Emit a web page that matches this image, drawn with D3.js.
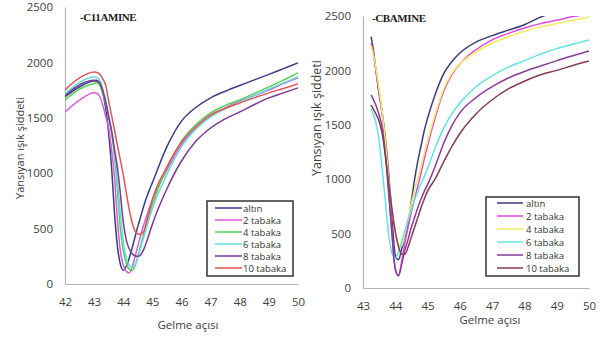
<!DOCTYPE html>
<html>
<head>
<meta charset="utf-8">
<script src="https://cdn.jsdelivr.net/npm/d3@7"></script>
<style>
  body { margin: 0; background: #fff; }
  svg { display: block; }
  .tick text { font-family: "Open Sans", sans-serif; fill: #404040; }
</style>
</head>
<body>
<svg id="chart" width="607" height="340"></svg>
<script>
// ---- Panel 1: -C11AMINE ----
const c11Angles = [42, 42.5, 43, 43.1, 43.2, 43.3, 43.4, 43.5, 43.6, 43.7, 43.8, 43.9, 44.0, 44.1, 44.2, 44.3, 44.4, 44.5, 44.6, 44.7, 44.8, 44.9, 45.0, 45.5, 46, 46.5, 47, 47.5, 48, 48.5, 49, 49.5, 50];
const c11Altin   = [1690, 1780, 1833, 1830, 1800, 1720, 1580, 1360, 1050, 640, 340, 180, 125, 160, 230, 320, 420, 520, 610, 700, 780, 850, 915, 1240, 1470, 1595, 1680, 1740, 1792, 1842, 1892, 1944, 1996];
const c11Tabaka2 = [1553, 1660, 1725, 1722, 1690, 1610, 1510, 1410, 1210, 960, 580, 300, 170, 115, 100, 150, 240, 340, 440, 530, 610, 690, 760, 1030, 1260, 1410, 1520, 1590, 1650, 1700, 1750, 1810, 1860];
const c11Tabaka4 = [1662, 1760, 1810, 1815, 1790, 1720, 1620, 1500, 1363, 1150, 850, 500, 300, 190, 135, 120, 160, 250, 350, 450, 550, 640, 720, 1050, 1290, 1440, 1544, 1610, 1662, 1720, 1779, 1840, 1905];
const c11Tabaka6 = [1716, 1820, 1868, 1865, 1840, 1760, 1650, 1520, 1390, 1200, 930, 640, 380, 240, 170, 150, 170, 240, 330, 420, 510, 600, 680, 990, 1240, 1400, 1508, 1580, 1644, 1700, 1760, 1815, 1869];
const c11Tabaka8 = [1700, 1800, 1840, 1838, 1810, 1740, 1640, 1510, 1380, 1210, 1050, 820, 560, 400, 320, 275, 255, 250, 265, 310, 380, 460, 540, 860, 1110, 1290, 1408, 1490, 1553, 1620, 1680, 1725, 1770];
const c11Tabaka10 = [1752, 1860, 1914, 1910, 1890, 1850, 1790, 1650, 1520, 1390, 1250, 1120, 990, 830, 680, 560, 480, 452, 450, 470, 560, 660, 760, 1057, 1280, 1420, 1526, 1585, 1634, 1680, 1725, 1765, 1806];
const c11XTicks = [42, 43, 44, 45, 46, 47, 48, 49, 50];

// ---- Panel 2: -CBAMINE ----
const cbAngles = [43.25, 43.3, 43.4, 43.5, 43.6, 43.7, 43.8, 43.9, 44.0, 44.1, 44.2, 44.3, 44.4, 44.5, 44.6, 44.7, 44.8, 44.9, 45.0, 45.25, 45.5, 45.75, 46, 46.5, 47, 47.5, 48, 48.5, 49, 49.5, 50];
const cbAltin   = [2310, 2230, 2000, 1780, 1600, 1360, 1040, 640, 300, 260, 360, 460, 600, 800, 1000, 1170, 1310, 1450, 1560, 1790, 1970, 2080, 2160, 2260, 2320, 2370, 2420, 2490, 2540, 2580, 2620];
const cbTabaka2 = [2250, 2190, 2000, 1800, 1580, 1250, 880, 500, 180, 110, 250, 420, 560, 700, 820, 940, 1060, 1190, 1310, 1580, 1810, 1960, 2060, 2190, 2280, 2340, 2390, 2430, 2460, 2495, 2515];
const cbTabaka4 = [2230, 2170, 2020, 1830, 1600, 1330, 1000, 720, 500, 400, 390, 500, 640, 780, 900, 1010, 1120, 1240, 1350, 1610, 1830, 1970, 2060, 2170, 2250, 2310, 2360, 2400, 2430, 2460, 2490];
const cbTabaka6 = [1650, 1610, 1520, 1350, 1080, 780, 480, 320, 275, 330, 430, 530, 630, 720, 810, 890, 960, 1030, 1100, 1300, 1470, 1600, 1700, 1850, 1950, 2030, 2090, 2150, 2200, 2240, 2279];
const cbTabaka8 = [1775, 1745, 1680, 1590, 1460, 1200, 850, 480, 170, 115, 220, 350, 450, 560, 650, 740, 820, 890, 950, 1130, 1330, 1490, 1610, 1750, 1850, 1930, 1990, 2040, 2090, 2135, 2178];
const cbTabaka10 = [1680, 1655, 1600, 1530, 1410, 1200, 960, 720, 520, 380, 310, 310, 380, 470, 560, 650, 740, 820, 890, 1010, 1160, 1300, 1420, 1600, 1730, 1830, 1900, 1960, 2000, 2045, 2086];
const cbXTicks = [43, 44, 45, 46, 47, 48, 49, 50];

const yTicks = [0, 500, 1000, 1500, 2000, 2500];
const seriesNames = ["altın", "2 tabaka", "4 tabaka", "6 tabaka", "8 tabaka", "10 tabaka"];
const yLabel = "Yansıyan ışık şiddeti";
const xLabel = "Gelme açısı";

const svg = d3.select("#chart");

function drawPanel(p) {
  const x = d3.scaleLinear().domain(p.xDomain).range([p.left, p.right]);
  const y = d3.scaleLinear().domain([0, 2500]).range([p.bottom, p.top]);
  const g = svg.append("g");

  // axes: plain grey lines, no tick marks
  const yAxis = g.append("g")
    .attr("transform", `translate(${p.left},0)`)
    .call(d3.axisLeft(y).tickValues(yTicks).tickSize(0).tickPadding(p.yPad).tickFormat(d3.format("d")));
  yAxis.select(".domain").attr("stroke", "#b4b4b4").attr("stroke-width", 1.2);
  yAxis.selectAll(".tick text").attr("font-size", p.tickSize);

  const xAxis = g.append("g")
    .attr("transform", `translate(0,${p.bottom})`)
    .call(d3.axisBottom(x).tickValues(p.xTicks).tickSize(0).tickPadding(p.xPad).tickFormat(d3.format("d")));
  xAxis.select(".domain").attr("stroke", "#b4b4b4").attr("stroke-width", 1.2);
  xAxis.selectAll(".tick text").attr("font-size", p.tickSize);

  // clip curves to the plotting area
  const clipId = "clip-" + p.id;
  svg.append("clipPath").attr("id", clipId)
    .append("rect").attr("x", p.left).attr("y", p.top)
    .attr("width", p.right - p.left + 2).attr("height", p.bottom - p.top);

  const line = d3.line()
    .x((d, i) => x(p.angles[i]))
    .y(d => y(d))
    .curve(d3.curveMonotoneX);

  const lines = g.append("g").attr("clip-path", `url(#${clipId})`);
  p.series.forEach((vals, i) => {
    lines.append("path")
      .attr("d", line(vals))
      .attr("fill", "none")
      .attr("stroke", p.colors[i])
      .attr("stroke-width", 1.5)
      .attr("stroke-linejoin", "round");
  });

  // panel title
  g.append("text")
    .attr("x", p.titleX).attr("y", p.titleY)
    .attr("font-family", "Liberation Serif, Times New Roman, serif")
    .attr("font-weight", "bold")
    .attr("font-size", 11)
    .attr("letter-spacing", -0.4)
    .attr("fill", "#222")
    .text(p.title);

  // axis titles
  g.append("text")
    .attr("x", p.xLabelX).attr("y", p.xLabelY)
    .attr("text-anchor", "middle")
    .attr("font-family", "Open Sans, sans-serif")
    .attr("font-size", p.labelSize)
    .attr("fill", "#404040")
    .text(xLabel);

  g.append("text")
    .attr("transform", `translate(${p.yLabelX},${p.yLabelY}) rotate(-90)`)
    .attr("text-anchor", "middle")
    .attr("font-family", "Open Sans, sans-serif")
    .attr("font-size", p.yLabelSize)
    .attr("fill", "#404040")
    .text(yLabel);

  // legend
  const lg = g.append("g");
  lg.append("rect")
    .attr("x", p.legend.x).attr("y", p.legend.y)
    .attr("width", p.legend.w).attr("height", p.legend.h)
    .attr("fill", "#fff").attr("stroke", "#333").attr("stroke-width", 1.5);
  seriesNames.forEach((name, i) => {
    const ry = p.legend.y + p.legend.first + i * p.legend.step;
    lg.append("line")
      .attr("x1", p.legend.x + p.legend.lx1).attr("x2", p.legend.x + p.legend.lx2)
      .attr("y1", ry).attr("y2", ry)
      .attr("stroke", p.colors[i]).attr("stroke-width", 1.5);
    lg.append("text")
      .attr("x", p.legend.x + p.legend.tx).attr("y", ry + 3.5)
      .attr("font-family", "Open Sans, sans-serif")
      .attr("font-size", p.legend.fs)
      .attr("fill", "#333")
      .text(name);
  });
}

drawPanel({
  id: "c11",
  xDomain: [42, 50], left: 65, right: 298, top: 7, bottom: 284,
  angles: c11Angles,
  series: [c11Altin, c11Tabaka2, c11Tabaka4, c11Tabaka6, c11Tabaka8, c11Tabaka10],
  colors: ["#3c3c86", "#dc58dc", "#58d058", "#5fdede", "#7a3a92", "#e45454"],
  xTicks: c11XTicks, yPad: 12, xPad: 14, tickSize: 11.5,
  title: "-C11AMINE", titleX: 80, titleY: 21,
  xLabelX: 188, xLabelY: 329, labelSize: 11.5,
  yLabelX: 24, yLabelY: 148, yLabelSize: 11,
  legend: { x: 207, y: 201, w: 86, h: 75, first: 7, step: 12, lx1: 8, lx2: 35, tx: 36, fs: 9.5 }
});

drawPanel({
  id: "cb",
  xDomain: [43, 50], left: 363, right: 589, top: 16, bottom: 288,
  angles: cbAngles,
  series: [cbAltin, cbTabaka2, cbTabaka4, cbTabaka6, cbTabaka8, cbTabaka10],
  colors: ["#3c3c7c", "#e048e0", "#f2ec5a", "#62e4e4", "#8a3c9a", "#873a52"],
  xTicks: cbXTicks, yPad: 12, xPad: 14, tickSize: 11.5,
  title: "-CBAMINE", titleX: 372, titleY: 22,
  xLabelX: 490, xLabelY: 324, labelSize: 11.5,
  yLabelX: 321, yLabelY: 118, yLabelSize: 12.5,
  legend: { x: 486, y: 197, w: 93, h: 79, first: 6, step: 13, lx1: 11, lx2: 37, tx: 40, fs: 9.5 }
});
</script>
</body>
</html>
